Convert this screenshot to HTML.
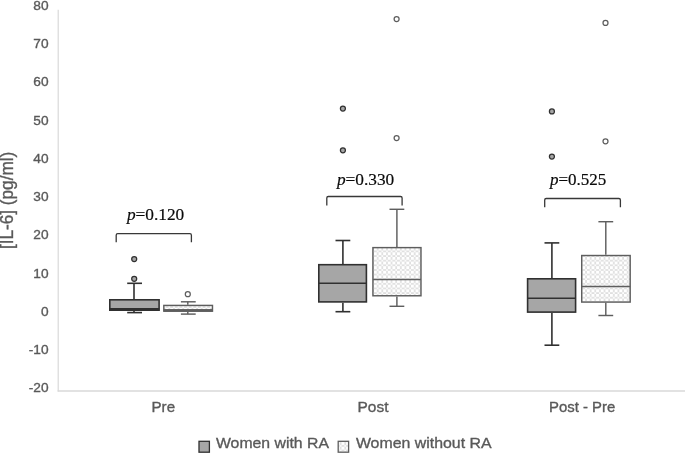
<!DOCTYPE html>
<html lang="en"><head><meta charset="utf-8"><title>IL-6 box plot</title>
<style>
html,body{margin:0;padding:0;background:#fff;}
body{width:685px;height:453px;overflow:hidden;}
svg{display:block;}
</style></head><body>
<svg width="685" height="453" viewBox="0 0 685 453">
<defs>
<pattern id="chk" width="4.63" height="4.63" patternUnits="userSpaceOnUse" patternTransform="translate(-1.11 2.28)">
<rect width="4.63" height="4.63" fill="#fff"/>
<rect x="2.9" y="0" width="1.73" height="2.9" fill="#dfdfdf"/>
<rect x="0" y="2.9" width="2.9" height="1.73" fill="#dfdfdf"/>
</pattern>
</defs>
<rect width="685" height="453" fill="#fff"/>
<line x1="58.2" y1="9.8" x2="58.2" y2="391.6" stroke="#d9d9d9" stroke-width="1.2"/>
<line x1="57.6" y1="391" x2="685" y2="391" stroke="#d9d9d9" stroke-width="1.3"/>
<text transform="translate(48.6 9.90)  scale(1.0 1)" text-anchor="end" font-family="'Liberation Sans', sans-serif" font-size="13.7" fill="#595959" stroke="#595959" stroke-width="0.35">80</text>
<text transform="translate(48.6 48.14)  scale(1.0 1)" text-anchor="end" font-family="'Liberation Sans', sans-serif" font-size="13.7" fill="#595959" stroke="#595959" stroke-width="0.35">70</text>
<text transform="translate(48.6 86.38)  scale(1.0 1)" text-anchor="end" font-family="'Liberation Sans', sans-serif" font-size="13.7" fill="#595959" stroke="#595959" stroke-width="0.35">60</text>
<text transform="translate(48.6 124.62)  scale(1.0 1)" text-anchor="end" font-family="'Liberation Sans', sans-serif" font-size="13.7" fill="#595959" stroke="#595959" stroke-width="0.35">50</text>
<text transform="translate(48.6 162.86)  scale(1.0 1)" text-anchor="end" font-family="'Liberation Sans', sans-serif" font-size="13.7" fill="#595959" stroke="#595959" stroke-width="0.35">40</text>
<text transform="translate(48.6 201.10)  scale(1.0 1)" text-anchor="end" font-family="'Liberation Sans', sans-serif" font-size="13.7" fill="#595959" stroke="#595959" stroke-width="0.35">30</text>
<text transform="translate(48.6 239.34)  scale(1.0 1)" text-anchor="end" font-family="'Liberation Sans', sans-serif" font-size="13.7" fill="#595959" stroke="#595959" stroke-width="0.35">20</text>
<text transform="translate(48.6 277.58)  scale(1.0 1)" text-anchor="end" font-family="'Liberation Sans', sans-serif" font-size="13.7" fill="#595959" stroke="#595959" stroke-width="0.35">10</text>
<text transform="translate(48.6 315.82)  scale(1.0 1)" text-anchor="end" font-family="'Liberation Sans', sans-serif" font-size="13.7" fill="#595959" stroke="#595959" stroke-width="0.35">0</text>
<text transform="translate(48.6 354.06)  scale(1.0 1)" text-anchor="end" font-family="'Liberation Sans', sans-serif" font-size="13.7" fill="#595959" stroke="#595959" stroke-width="0.35">-10</text>
<text transform="translate(48.6 392.30)  scale(1.0 1)" text-anchor="end" font-family="'Liberation Sans', sans-serif" font-size="13.7" fill="#595959" stroke="#595959" stroke-width="0.35">-20</text>
<text transform="translate(12.9 200.4) rotate(-90) scale(0.977 1)" text-anchor="middle" font-family="'Liberation Sans', sans-serif" font-size="17.6" fill="#595959" stroke="#595959" stroke-width="0.35">[IL-6] (pg/ml)</text>
<text transform="translate(163.3 412.4)  scale(0.99 1)" text-anchor="middle" font-family="'Liberation Sans', sans-serif" font-size="15.3" fill="#595959" stroke="#595959" stroke-width="0.35">Pre</text>
<text transform="translate(373.0 412.4)  scale(1.01 1)" text-anchor="middle" font-family="'Liberation Sans', sans-serif" font-size="15.3" fill="#595959" stroke="#595959" stroke-width="0.35">Post</text>
<text transform="translate(582.1 412.4)  scale(0.975 1)" text-anchor="middle" font-family="'Liberation Sans', sans-serif" font-size="15.3" fill="#595959" stroke="#595959" stroke-width="0.35">Post - Pre</text>
<rect x="199" y="441.3" width="10.4" height="10.9" fill="#a6a6a6" stroke="#303030" stroke-width="1.3"/>
<text transform="translate(216.0 448.0)  scale(1.02 1)" text-anchor="start" font-family="'Liberation Sans', sans-serif" font-size="15.5" fill="#595959" stroke="#595959" stroke-width="0.35">Women with RA</text>
<rect x="338.2" y="441.3" width="10.4" height="10.9" fill="url(#chk)" stroke="#5e5e5e" stroke-width="1.3"/>
<text transform="translate(355.9 448.0)  scale(1.025 1)" text-anchor="start" font-family="'Liberation Sans', sans-serif" font-size="15.5" fill="#595959" stroke="#595959" stroke-width="0.35">Women without RA</text>
<line x1="134.0" y1="283.3" x2="134.0" y2="299.0" stroke="#303030" stroke-width="1.6"/>
<line x1="134.0" y1="311.0" x2="134.0" y2="312.6" stroke="#303030" stroke-width="1.6"/>
<line x1="127.19999999999999" y1="283.3" x2="142.0" y2="283.3" stroke="#303030" stroke-width="1.6"/>
<line x1="127.19999999999999" y1="312.6" x2="142.0" y2="312.6" stroke="#303030" stroke-width="1.6"/>
<rect x="109.8" y="299.8" width="49.30" height="10.40" fill="#a6a6a6" stroke="#303030" stroke-width="1.6"/>
<line x1="109.8" y1="308.9" x2="159.1" y2="308.9" stroke="#303030" stroke-width="1.6"/>
<rect x="109.75" y="308.2" width="49.4" height="2.4" fill="#303030"/>
<line x1="187.8" y1="301.8" x2="187.8" y2="304.7" stroke="#5e5e5e" stroke-width="1.45"/>
<line x1="187.8" y1="311.9" x2="187.8" y2="314.1" stroke="#5e5e5e" stroke-width="1.45"/>
<line x1="180.9" y1="301.8" x2="195.70000000000002" y2="301.8" stroke="#5e5e5e" stroke-width="1.45"/>
<line x1="180.9" y1="314.1" x2="195.70000000000002" y2="314.1" stroke="#5e5e5e" stroke-width="1.45"/>
<rect x="163.825" y="305.425" width="48.65" height="5.75" fill="url(#chk)" stroke="#5e5e5e" stroke-width="1.45"/>
<line x1="163.825" y1="310.0" x2="212.475" y2="310.0" stroke="#5e5e5e" stroke-width="1.45"/>
<rect x="163.85" y="309.2" width="48.6" height="2.4" fill="#5e5e5e"/>
<line x1="342.9" y1="240.5" x2="342.9" y2="263.9" stroke="#303030" stroke-width="1.6"/>
<line x1="342.9" y1="302.7" x2="342.9" y2="311.7" stroke="#303030" stroke-width="1.6"/>
<line x1="335.5" y1="240.5" x2="350.29999999999995" y2="240.5" stroke="#303030" stroke-width="1.6"/>
<line x1="335.5" y1="311.7" x2="350.29999999999995" y2="311.7" stroke="#303030" stroke-width="1.6"/>
<rect x="318.8" y="264.7" width="47.60" height="37.20" fill="#a6a6a6" stroke="#303030" stroke-width="1.6"/>
<line x1="318.8" y1="283.3" x2="366.4" y2="283.3" stroke="#303030" stroke-width="1.6"/>
<line x1="396.9" y1="209.3" x2="396.9" y2="246.9" stroke="#5e5e5e" stroke-width="1.45"/>
<line x1="396.9" y1="296.5" x2="396.9" y2="306.3" stroke="#5e5e5e" stroke-width="1.45"/>
<line x1="389.5" y1="209.3" x2="404.29999999999995" y2="209.3" stroke="#5e5e5e" stroke-width="1.45"/>
<line x1="389.5" y1="306.3" x2="404.29999999999995" y2="306.3" stroke="#5e5e5e" stroke-width="1.45"/>
<rect x="372.925" y="247.625" width="48.05" height="48.15" fill="url(#chk)" stroke="#5e5e5e" stroke-width="1.45"/>
<line x1="372.925" y1="279.5" x2="420.97499999999997" y2="279.5" stroke="#5e5e5e" stroke-width="1.45"/>
<line x1="551.9" y1="242.9" x2="551.9" y2="278.0" stroke="#303030" stroke-width="1.6"/>
<line x1="551.9" y1="312.9" x2="551.9" y2="345.2" stroke="#303030" stroke-width="1.6"/>
<line x1="544.5" y1="242.9" x2="559.3" y2="242.9" stroke="#303030" stroke-width="1.6"/>
<line x1="544.5" y1="345.2" x2="559.3" y2="345.2" stroke="#303030" stroke-width="1.6"/>
<rect x="527.5999999999999" y="278.8" width="48.00" height="33.30" fill="#a6a6a6" stroke="#303030" stroke-width="1.6"/>
<line x1="527.5999999999999" y1="298.2" x2="575.6" y2="298.2" stroke="#303030" stroke-width="1.6"/>
<line x1="605.8" y1="221.7" x2="605.8" y2="254.8" stroke="#5e5e5e" stroke-width="1.45"/>
<line x1="605.8" y1="302.8" x2="605.8" y2="315.5" stroke="#5e5e5e" stroke-width="1.45"/>
<line x1="598.4" y1="221.7" x2="613.1999999999999" y2="221.7" stroke="#5e5e5e" stroke-width="1.45"/>
<line x1="598.4" y1="315.5" x2="613.1999999999999" y2="315.5" stroke="#5e5e5e" stroke-width="1.45"/>
<rect x="581.725" y="255.525" width="48.45" height="46.55" fill="url(#chk)" stroke="#5e5e5e" stroke-width="1.45"/>
<line x1="581.725" y1="286.5" x2="630.175" y2="286.5" stroke="#5e5e5e" stroke-width="1.45"/>
<circle cx="134.2" cy="259.0" r="2.5" fill="#a6a6a6" stroke="#303030" stroke-width="1.25"/>
<circle cx="134.2" cy="278.8" r="2.5" fill="#a6a6a6" stroke="#303030" stroke-width="1.25"/>
<circle cx="342.9" cy="108.5" r="2.5" fill="#a6a6a6" stroke="#303030" stroke-width="1.25"/>
<circle cx="342.9" cy="150.3" r="2.5" fill="#a6a6a6" stroke="#303030" stroke-width="1.25"/>
<circle cx="551.9" cy="111.4" r="2.5" fill="#a6a6a6" stroke="#303030" stroke-width="1.25"/>
<circle cx="551.9" cy="156.5" r="2.5" fill="#a6a6a6" stroke="#303030" stroke-width="1.25"/>
<circle cx="187.8" cy="294.2" r="2.5" fill="#fff" stroke="#5e5e5e" stroke-width="1.25"/>
<circle cx="396.6" cy="138.0" r="2.5" fill="#fff" stroke="#5e5e5e" stroke-width="1.25"/>
<circle cx="396.6" cy="19.0" r="2.5" fill="#fff" stroke="#5e5e5e" stroke-width="1.25"/>
<circle cx="605.5" cy="22.9" r="2.5" fill="#fff" stroke="#5e5e5e" stroke-width="1.25"/>
<circle cx="605.5" cy="141.3" r="2.5" fill="#fff" stroke="#5e5e5e" stroke-width="1.25"/>
<path d="M116.2 242.2 V235.2 Q116.2 233.7 117.7 233.7 H189.9 Q191.4 233.7 191.4 235.2 V242.2" fill="none" stroke="#383838" stroke-width="1.3"/>
<path d="M326.8 205.4 V198.0 Q326.8 196.5 328.3 196.5 H400.6 Q402.1 196.5 402.1 198.0 V205.4" fill="none" stroke="#383838" stroke-width="1.3"/>
<path d="M544.7 207.2 V200.0 Q544.7 198.5 546.2 198.5 H618.9 Q620.4 198.5 620.4 200.0 V207.2" fill="none" stroke="#383838" stroke-width="1.3"/>
<text x="126.9" y="220.1" font-family="'Liberation Serif', serif" font-size="17.3" fill="#0a0a0a" stroke="#0a0a0a" stroke-width="0.2"><tspan font-style="italic">p</tspan>=0.120</text>
<text x="336.9" y="185.1" font-family="'Liberation Serif', serif" font-size="17.3" fill="#0a0a0a" stroke="#0a0a0a" stroke-width="0.2"><tspan font-style="italic">p</tspan>=0.330</text>
<text x="549.9" y="184.6" font-family="'Liberation Serif', serif" font-size="17.0" fill="#0a0a0a" stroke="#0a0a0a" stroke-width="0.2"><tspan font-style="italic">p</tspan>=0.525</text>
</svg>
</body></html>
